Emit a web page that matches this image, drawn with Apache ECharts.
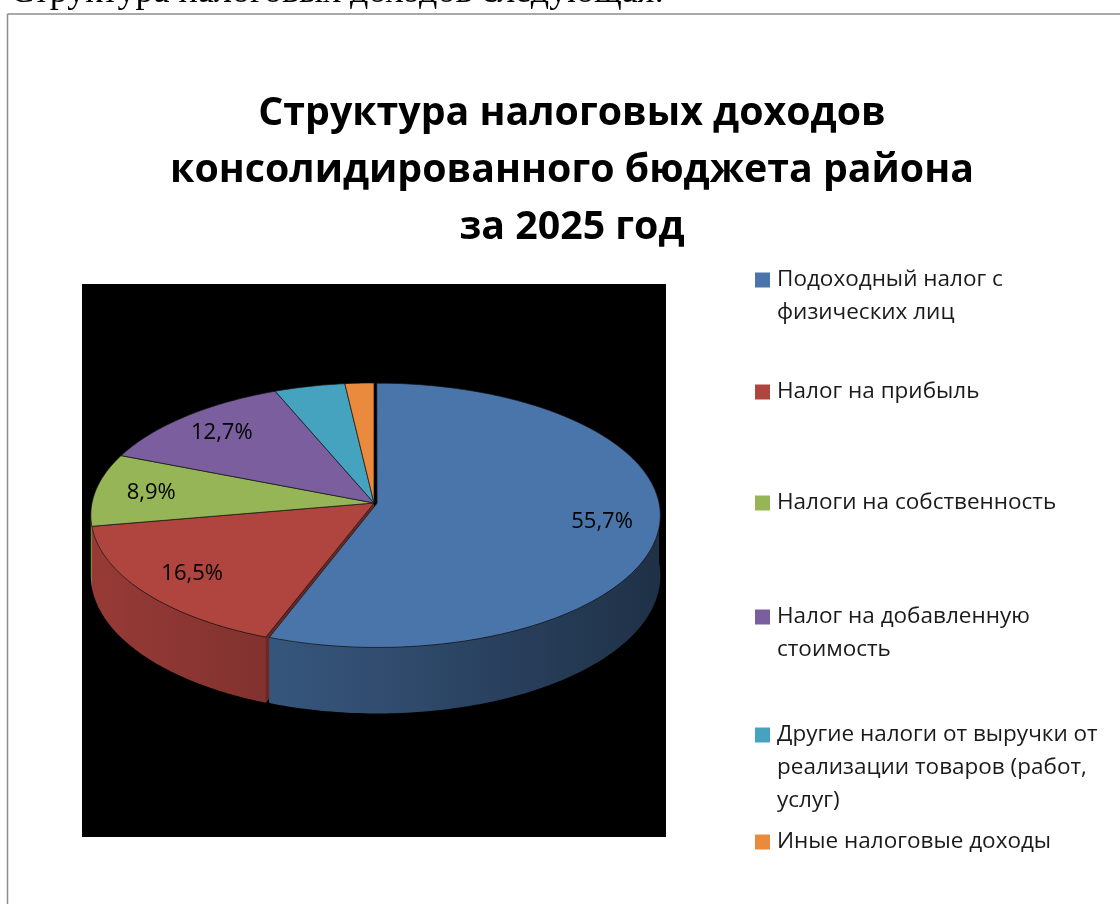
<!DOCTYPE html>
<html><head><meta charset="utf-8">
<script src="https://cdn.jsdelivr.net/npm/echarts@6/dist/echarts.min.js"></script>
<style>html,body{margin:0;padding:0;background:#fff}#c{width:1120px;height:904px}</style>
</head><body><div id="c"></div>
<script>
// ---- data ----
const categories = [
  'Подоходный налог с физических лиц',
  'Налог на прибыль',
  'Налоги на собственность',
  'Налог на добавленную стоимость',
  'Другие налоги от выручки от реализации товаров (работ, услуг)',
  'Иные налоговые доходы'
];
const values = [55.7, 16.5, 8.9, 12.7, 4.4, 1.8];
const legendLines = [
  ['Подоходный налог с', 'физических лиц'],
  ['Налог на прибыль'],
  ['Налоги на собственность'],
  ['Налог на добавленную', 'стоимость'],
  ['Другие налоги от выручки от', 'реализации товаров (работ,', 'услуг)'],
  ['Иные налоговые доходы']
];
const titleLines = ['Структура налоговых доходов', 'консолидированного бюджета района', 'за 2025 год'];
const introText = 'Структура налоговых доходов следующая:';

// ---- style ----
const colors = ['#4a75aa', '#b0443f', '#95b556', '#7b5e9e', '#46a3bf', '#e98a3c'];
const explode = [0.011, 0, 0, 0, 0, 0];
const cx = 374, cy = 503, rx = 282, ry = 131, persp = 0.091, depth = 60;
const labelFrac = 0.8;
const FONT = '"Open Sans", "Noto Sans", sans-serif';

const total = values.reduce((a, b) => a + b, 0);
const starts = []; { let acc = 0; values.forEach(v => { starts.push(acc); acc += v; }); }

function proj(u, v, h) { const f = 1 / (1 - persp * v); return [cx + rx * u * f, cy + (ry * v + depth * h) * f]; }
function pt(a, r, h, off) { return proj(off[0] + r * Math.sin(a), off[1] - r * Math.cos(a), h); }
function ang(p) { return p / total * 2 * Math.PI; }
function shade(hex, k) {
  const n = parseInt(hex.slice(1), 16);
  const r = Math.round(((n >> 16) & 255) * k), g = Math.round(((n >> 8) & 255) * k), b = Math.round((n & 255) * k);
  return 'rgb(' + r + ',' + g + ',' + b + ')';
}
function arc(a0, a1, h, off) {
  const pts = []; const n = Math.max(2, Math.ceil((a1 - a0) / (Math.PI / 180)));
  for (let k = 0; k <= n; k++) pts.push(pt(a0 + (a1 - a0) * k / n, 1, h, off));
  return pts;
}
function fmt(v) { return v.toFixed(1).replace('.', ',') + '%'; }
const visTo = 2 * Math.PI - Math.acos(-persp);

function makeRender(i) {
  return function (params, api) {
    const val = api.value(0);
    const a0 = ang(starts[i]), a1 = ang(starts[i] + val), mid = (a0 + a1) / 2;
    const e = explode[i];
    const off = [e * Math.sin(mid), -e * Math.cos(mid)];
    const col = colors[i];
    const children = [];
    [a0, a1].forEach(a => {
      const depthOrder = (1 - Math.cos(a)) / 2; // 0 = back, 1 = front
      children.push({ type: 'polygon', z2: 1 + depthOrder * 0.9,
        shape: { points: [pt(a, 0, 0, off), pt(a, 1, 0, off), pt(a, 1, 1, off), pt(a, 0, 1, off)] },
        style: { fill: shade(col, 0.6) } });
    });
    const s = Math.max(a0, Math.PI / 2), t = Math.min(a1, visTo);
    if (t > s) {
      const top = arc(s, t, 0, off), bot = arc(s, t, 1, off).reverse();
      children.push({ type: 'polygon', z2: 2,
        shape: { points: top.concat(bot) },
        style: { fill: new echarts.graphic.LinearGradient(cx - rx, 0, cx + rx, 0, [
          { offset: 0, color: shade(col, 0.86) }, { offset: 0.5, color: shade(col, 0.66) }, { offset: 1, color: shade(col, 0.42) }], true) } });
    }
    const face = [pt(0, 0, 0, off)].concat(arc(a0, a1, 0, off));
    children.push({ type: 'polygon', z2: 3, shape: { points: face },
      style: { fill: col, stroke: 'rgba(20,20,20,0.7)', lineWidth: 1 } });
    if (val >= 5) {
      const lp = pt(mid, labelFrac, 0, off);
      children.push({ type: 'text', z2: 10, x: lp[0], y: lp[1],
        style: { text: fmt(val), align: 'center', verticalAlign: 'middle', fontSize: 22, fontFamily: FONT, fill: '#000' } });
    }
    return { type: 'group', children };
  };
}

const series = categories.map((name, i) => ({
  type: 'custom', name, coordinateSystem: 'none',
  itemStyle: { color: colors[i] },
  data: [{ name, value: values[i] }],
  renderItem: makeRender(i)
}));

const L = 33;
const legendCenters = [280, 392, 503, 617, 735, 842];
const legends = categories.map((name, i) => {
  const n = legendLines[i].length;
  return {
    left: 755, top: legendCenters[i] - (2 * n - 1) * L / 2, orient: 'vertical', padding: 0,
    itemWidth: 15, itemHeight: 15, icon: 'rect', selectedMode: false,
    data: [name],
    formatter: () => '\n'.repeat(n - 1) + legendLines[i].join('\n'),
    textStyle: { fontFamily: FONT, fontSize: 22.5, lineHeight: L, color: '#1a1a1a', padding: [0, 0, 0, 2] }
  };
});

const chart = echarts.init(document.getElementById('c'), null, { renderer: 'canvas' });
chart.setOption({
  animation: false,
  backgroundColor: '#fff',
  legend: legends,
  graphic: [
    { type: 'text', x: 10, y: -7, z: -5, style: { text: introText, fontFamily: '"Liberation Serif", serif', fontSize: 36, fill: '#000', verticalAlign: 'middle' } },
    { type: 'line', z: -5, shape: { x1: 7.5, y1: 14, x2: 1120, y2: 14 }, style: { stroke: '#8c8c8c', lineWidth: 1.5 } },
    { type: 'line', z: -5, shape: { x1: 7.5, y1: 14, x2: 7.5, y2: 904 }, style: { stroke: '#8c8c8c', lineWidth: 1.5 } },
    { type: 'rect', z: -5, shape: { x: 82, y: 284, width: 584, height: 553 }, style: { fill: '#000' } },
    { type: 'text', x: 572, y: 171, z: 5, style: { text: titleLines.join('\n'), align: 'center', verticalAlign: 'middle',
      fontFamily: FONT, fontWeight: 'bold', fontSize: 39.3, lineHeight: 57, fill: '#000' } }
  ],
  series
});
</script>
</body></html>
